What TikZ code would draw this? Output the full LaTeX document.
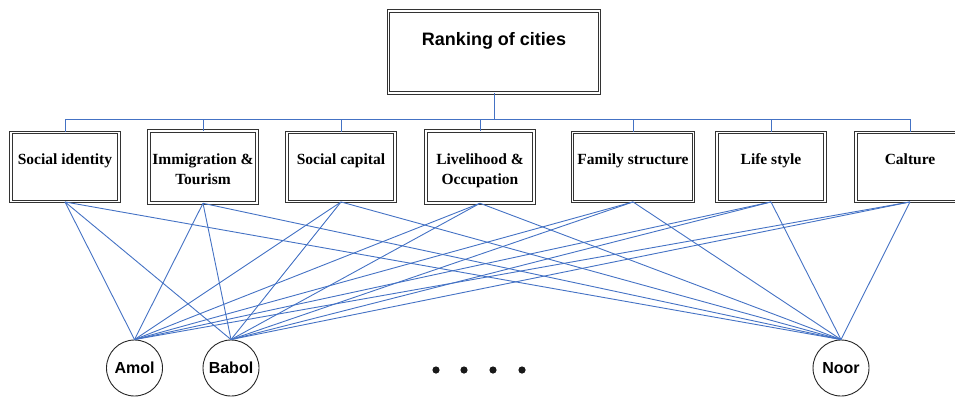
\documentclass[tikz,border=0pt]{standalone}
\usepackage{fontspec}
\setmainfont{Liberation Serif}
\setsansfont{Liberation Sans}
\definecolor{linkblue}{RGB}{68,114,196}
\tikzset{
	frame/.style={draw=black!80, double=white, double distance=1.8pt, line width=0.9pt},
	crit/.style={frame, minimum width=108, minimum height=69, align=center,
			text height=10pt, text depth=15pt,
			font=\bfseries\fontsize{15.5}{20}\selectfont},
	crit two/.style={crit, text height=50pt},
	city/.style={circle, draw=black!85, line width=0.9pt, minimum size=56, inner sep=0pt,
			font=\sffamily\bfseries\fontsize{16}{19}\selectfont},
	link/.style={linkblue, line width=0.9pt}
}

\begin{document}
\begin{tikzpicture}[x=1pt, y=-1pt]
        \useasboundingbox (0,0) rectangle (955,400);
        \clip (0,0) rectangle (955,400);

        % Goal
        \node[frame, minimum width=211, minimum height=82, text height=13pt, text depth=27pt,
              font=\sffamily\bfseries\fontsize{18}{21}\selectfont] (rank) at (494,52) {Ranking of cities};

        % Criteria
        \node[crit] (crit1) at (65,167) {Social identity};
        \node[crit two] (crit2) at (203,167) {Immigration \&\\Tourism};
        \node[crit] (crit3) at (341,167) {Social capital};
        \node[crit two] (crit4) at (480,167) {Livelihood \&\\Occupation};
        \node[crit, minimum width=121] (crit5) at (633,167) {Family structure};
        \node[crit] (crit6) at (771,167) {Life style};
        \node[crit] (crit7) at (910,167) {Calture};

        % Tree from goal to criteria
        \foreach \i in {1,...,7} {
            \draw[link] (rank.south) -- ++(0,26) -| (crit\i.north);
        }

        % Cities
        \node[city] (amol) at (134.5,368) {Amol};
        \node[city] (babol) at (231,368) {Babol};
        \node[city] (noor) at (841,368) {Noor};

        % Links from every criterion to every city
        \foreach \i in {1,...,7} {
            \foreach \c in {amol, babol, noor} {
                \draw[link] (crit\i.south) -- (\c.north);
            }
        }

        % More cities
        \foreach \x in {436, 464, 493, 522} {
            \fill[black!90] (\x,370) circle (3.6);
        }

    \end{tikzpicture}
\end{document}
